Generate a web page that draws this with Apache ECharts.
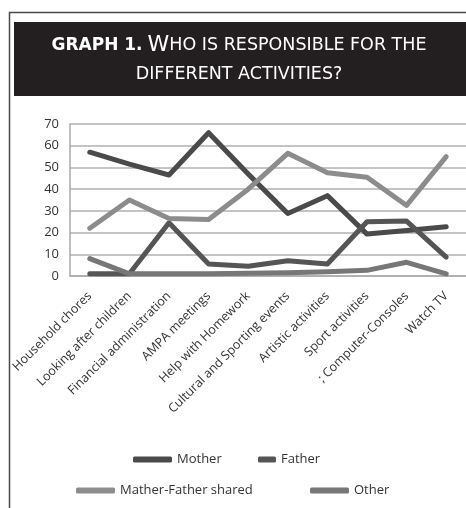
<!DOCTYPE html>
<html>
<head>
<meta charset="utf-8">
<script src="https://cdn.jsdelivr.net/npm/echarts@6/dist/echarts.min.js"></script>
<style>
html,body{margin:0;padding:0;background:#fff;}
#chart{width:466px;height:508px;}
</style>
</head>
<body>
<div id="chart"></div>
<script>
const categories = ['Household chores','Looking after children','Financial administration','AMPA meetings','Help with Homework','Cultural and Sporting events','Artistic activities','Sport activities','; Computer-Consoles','Watch TV'];
const mother = [57, 51.5, 46.5, 66, 47, 28.8, 37, 19.3, 21, 22.7];
const father = [1, 1, 24.5, 5.5, 4.5, 7, 5.5, 25, 25.3, 8.7];
const shared = [22, 35, 26.5, 26, 40, 56.5, 47.5, 45.5, 32.5, 55];
const other = [8, 1, 1, 1, 1.3, 1.5, 2, 2.6, 6.3, 1];
const yTicks = [0, 10, 20, 30, 40, 50, 60, 70];

const FONT = '"Open Sans", sans-serif';
const TFONT = '"DejaVu Sans", sans-serif';
const chart = echarts.init(document.getElementById('chart'), null, {renderer: 'canvas'});

function legendOf(name, left, top, w) {
  return {
    data: [name], left: left, top: top, orient: 'horizontal', padding: 0,
    itemWidth: w, itemHeight: 6, icon: 'roundRect', selectedMode: false,
    textStyle: {fontFamily: FONT, fontSize: 13, color: '#333'}
  };
}

function lineSeries(name, data, color, width) {
  return {
    name: name, type: 'line', data: data, symbol: 'none', smooth: false,
    lineStyle: {color: color, width: width, cap: 'round', join: 'round'},
    itemStyle: {color: color}
  };
}

chart.setOption({
  animation: false,
  backgroundColor: '#fff',
  graphic: [
    {type: 'polyline', z: 0, shape: {points: [[9.5, 508], [9.5, 12.5], [466, 12.5]]},
     style: {fill: null, stroke: '#4a4a4a', lineWidth: 1.5}},
    {type: 'rect', z: 0, shape: {x: 14, y: 22, width: 460, height: 74},
     style: {fill: '#231f20'}}
  ],
  title: {
    text: '{b|GRAPH 1.} {c|W}{s|HO IS RESPONSIBLE FOR THE}\n{s|DIFFERENT ACTIVITIES?}',
    left: 239, top: 31, textAlign: 'center', padding: 0,
    textStyle: {
      fontWeight: 'normal',
      rich: {
        b: {fontFamily: TFONT, fontSize: 17, fontWeight: 'bold', color: '#fff', lineHeight: 29},
        c: {fontFamily: TFONT, fontSize: 22, fontWeight: 'normal', color: '#fff', lineHeight: 29},
        s: {fontFamily: TFONT, fontSize: 17.5, fontWeight: 'normal', color: '#fff', lineHeight: 29}
      }
    }
  },
  legend: [
    legendOf('Mother', 133, 453, 39),
    legendOf('Father', 258, 453, 18),
    legendOf('Mather-Father shared', 76, 484, 39),
    legendOf('Other', 310, 484, 39)
  ],
  grid: {left: 70, top: 124, width: 398, height: 152, containLabel: false},
  xAxis: {
    type: 'category', data: categories, boundaryGap: true,
    axisLine: {show: true, lineStyle: {color: '#aaa', width: 1.5}},
    axisTick: {show: false},
    axisLabel: {rotate: 45, interval: 0, margin: 18, fontFamily: FONT, fontSize: 12.5, color: '#333'}
  },
  yAxis: {
    type: 'value', min: yTicks[0], max: yTicks[yTicks.length - 1], interval: 10,
    axisLine: {show: true, lineStyle: {color: '#aaa', width: 1.5}},
    axisTick: {show: false},
    axisLabel: {margin: 11, fontFamily: FONT, fontSize: 13, color: '#333'},
    splitLine: {show: true, lineStyle: {color: '#b0b0b0', width: 1.5}}
  },
  series: [
    lineSeries('Mother', mother, '#4a4a4a', 5),
    lineSeries('Father', father, '#555555', 5),
    lineSeries('Mather-Father shared', shared, '#8c8c8c', 5),
    lineSeries('Other', other, '#777777', 5)
  ]
});
</script>
</body>
</html>
